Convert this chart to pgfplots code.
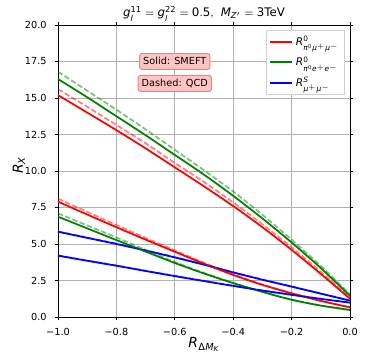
\documentclass[border=0pt]{standalone}
\usepackage{mathspec}
\setmainfont{DejaVu Sans}
\setmathsfont(Digits,Latin,Greek){DejaVu Sans}
\usepackage{pgfplots}
\pgfplotsset{compat=1.18}
\definecolor{mred}{HTML}{FF0000}
\definecolor{mgreen}{HTML}{008000}
\definecolor{mblue}{HTML}{0000FF}
\definecolor{gridc}{HTML}{B0B0B0}
\definecolor{boxfill}{HTML}{FFC4C4}
\definecolor{boxedge}{HTML}{F08080}
\definecolor{legedge}{HTML}{D0D0D0}
\begin{document}
\begin{tikzpicture}
\begin{axis}[
  at={(0,0)}, anchor=south west,
  width=210.24pt, height=210.24pt, scale only axis,
  xmin=-1, xmax=0, ymin=0, ymax=20,
  xtick={-1,-0.8,-0.6,-0.4,-0.2,0},
  xticklabels={−1.0,−0.8,−0.6,−0.4,−0.2,0.0},
  ytick={0,2.5,5,7.5,10,12.5,15,17.5,20},
  yticklabels={0.0,2.5,5.0,7.5,10.0,12.5,15.0,17.5,20.0},
  tick align=outside, major tick length=2.45pt,
  tick style={black, line width=0.56pt},
  axis line style={line width=0.56pt},
  grid=major, major grid style={gridc, line width=0.56pt},
  ticklabel style={font=\fontsize{7}{8.4}\selectfont},
  x tick label style={anchor=north, inner sep=0pt, yshift=-5.3pt},
  y tick label style={anchor=east, inner sep=0pt, xshift=-5.6pt},
  title={$g_{l}^{11}=g_{l}^{22}=0.5,\;\, M_{Z'}=\mbox{3TeV}$},
  every axis title/.style={at={(axis description cs:0.5,1.0124)}, anchor=south, inner sep=0pt, font=\fontsize{8.5}{10}\selectfont},
  xlabel={$R_{\Delta M_K}$},
  every axis x label/.style={at={(axis description cs:0.5,-0.0704)}, anchor=north, inner sep=0pt, font=\fontsize{10}{12}\selectfont},
  ylabel={$R_X$},
  every axis y label/.style={at={(axis description cs:-0.1118,0.52)}, rotate=90, anchor=south, inner sep=0pt, font=\fontsize{10}{12}\selectfont},
  legend style={at={(1,1)}, anchor=north east, xshift=-3.6pt, yshift=-3.6pt,
    draw=legedge, line width=0.5pt, fill=white,
    font=\fontsize{7.6}{9}\selectfont, inner xsep=2pt, inner ysep=2pt, row sep=2.6pt},
  legend cell align=left,
  legend image code/.code={\draw[#1] (0pt,0pt) -- (16pt,0pt);},
]
% solid (SMEFT)
\addplot[mred, smooth, line width=1.25pt, forget plot] coordinates {(-1,15.2) (-0.9,14.0) (-0.8,12.8) (-0.7,11.55) (-0.6,10.25) (-0.5,8.95) (-0.4,7.6) (-0.3,6.15) (-0.2,4.6) (-0.1,2.95) (0,1.25)};
\addplot[mgreen, smooth, line width=1.25pt, forget plot] coordinates {(-1,16.3) (-0.9,15.05) (-0.8,13.75) (-0.7,12.45) (-0.6,11.1) (-0.5,9.75) (-0.4,8.3) (-0.3,6.75) (-0.2,5.1) (-0.1,3.35) (0,1.45)};
\addplot[mblue, smooth, line width=1.25pt, forget plot] coordinates {(-1,5.84) (-0.9,5.42) (-0.8,5.0) (-0.7,4.55) (-0.6,4.08) (-0.5,3.58) (-0.4,3.05) (-0.3,2.55) (-0.2,2.08) (-0.1,1.6) (0,1.12)};
\addplot[mred, smooth, line width=1.25pt, forget plot] coordinates {(-1,7.9) (-0.9,7.02) (-0.8,6.15) (-0.7,5.3) (-0.6,4.47) (-0.5,3.65) (-0.4,2.88) (-0.3,2.2) (-0.2,1.62) (-0.1,1.1) (0,0.66)};
\addplot[mgreen, smooth, line width=1.25pt, forget plot] coordinates {(-1,6.87) (-0.9,6.07) (-0.8,5.27) (-0.7,4.48) (-0.6,3.7) (-0.5,2.98) (-0.4,2.32) (-0.3,1.72) (-0.2,1.18) (-0.1,0.78) (0,0.48)};
\addplot[mblue, smooth, line width=1.25pt, forget plot] coordinates {(-1,4.2) (-0.9,3.85) (-0.8,3.51) (-0.7,3.15) (-0.6,2.8) (-0.5,2.46) (-0.4,2.13) (-0.3,1.81) (-0.2,1.52) (-0.1,1.24) (0,0.98)};
% dashed (QCD)
\addplot[mred, smooth, line width=1.25pt, opacity=0.5, dash pattern=on 3.9pt off 1.7pt, forget plot] coordinates {(-1,15.6) (-0.9,14.4) (-0.8,13.15) (-0.7,11.9) (-0.6,10.55) (-0.5,9.25) (-0.4,7.85) (-0.3,6.35) (-0.2,4.78) (-0.1,3.1) (0,1.35)};
\addplot[mgreen, smooth, line width=1.25pt, opacity=0.5, dash pattern=on 3.9pt off 1.7pt, forget plot] coordinates {(-1,16.8) (-0.9,15.5) (-0.8,14.2) (-0.7,12.85) (-0.6,11.45) (-0.5,10.05) (-0.4,8.6) (-0.3,7.0) (-0.2,5.3) (-0.1,3.5) (0,1.55)};
\addplot[mred, smooth, line width=1.25pt, opacity=0.5, dash pattern=on 3.9pt off 1.7pt, forget plot] coordinates {(-1,8.1) (-0.9,7.2) (-0.8,6.3) (-0.7,5.42) (-0.6,4.56) (-0.5,3.72) (-0.4,2.93) (-0.3,2.23) (-0.2,1.64) (-0.1,1.11) (0,0.67)};
\addplot[mgreen, smooth, line width=1.25pt, opacity=0.5, dash pattern=on 3.9pt off 1.7pt, forget plot] coordinates {(-1,7.1) (-0.9,6.27) (-0.8,5.45) (-0.7,4.6) (-0.6,3.77) (-0.5,3.02) (-0.4,2.34) (-0.3,1.73) (-0.2,1.19) (-0.1,0.79) (0,0.49)};
\addplot[mblue, smooth, line width=1.25pt, opacity=0.5, dash pattern=on 3.9pt off 1.7pt, forget plot] coordinates {(-1,5.86) (-0.9,5.44) (-0.8,5.02) (-0.7,4.57) (-0.6,4.1) (-0.5,3.6) (-0.4,3.07) (-0.3,2.57) (-0.2,2.09) (-0.1,1.61) (0,1.13)};
\addplot[mblue, smooth, line width=1.25pt, opacity=0.5, dash pattern=on 3.9pt off 1.7pt, forget plot] coordinates {(-1,4.22) (-0.9,3.87) (-0.8,3.53) (-0.7,3.17) (-0.6,2.82) (-0.5,2.48) (-0.4,2.14) (-0.3,1.82) (-0.2,1.53) (-0.1,1.25) (0,0.99)};
% legend
\addlegendimage{draw=mred, line width=1.25pt}
\addlegendentry{$R^{0}_{\pi^0\mu^+\mu^-}$}
\addlegendimage{draw=mgreen, line width=1.25pt}
\addlegendentry{$R^{0}_{\pi^0e^+e^-}$}
\addlegendimage{draw=mblue, line width=1.25pt}
\addlegendentry{$R^{S}_{\mu^+\mu^-}$}
% annotation boxes
\node[fill=boxfill, draw=boxedge, line width=0.7pt, rounded corners=1.8pt, inner xsep=2.6pt, inner ysep=2.8pt, text height=5.3pt, text depth=0.6pt, font=\fontsize{7}{8.4}\selectfont] at (axis cs:-0.6,17.5) {Solid: SMEFT};
\node[fill=boxfill, draw=boxedge, line width=0.7pt, rounded corners=1.8pt, inner xsep=2.6pt, inner ysep=2.8pt, text height=5.3pt, text depth=0.6pt, font=\fontsize{7}{8.4}\selectfont] at (axis cs:-0.6,16.0) {Dashed: QCD};
\end{axis}
\pgfresetboundingbox
\path[use as bounding box] (-41.76pt,-33.12pt) rectangle (221.76pt,228.24pt);
\end{tikzpicture}
\end{document}
